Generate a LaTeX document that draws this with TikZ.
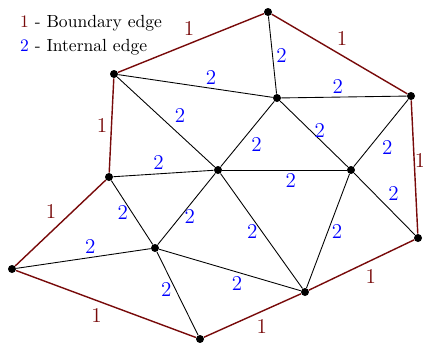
\documentclass[tikz,border=0pt]{standalone}
\usepackage{tikz}
\definecolor{bdry}{RGB}{120,10,10}

\begin{document}
\begin{tikzpicture}[x=0.02cm,y=-0.02cm,
  dot/.style={circle,fill=black,inner sep=0pt,minimum size=0.16cm},
  bedge/.style={bdry,thick},
  iedge/.style={black,line width=0.5pt},
  lab1/.style={text=bdry,font=\large,inner sep=2pt},
  lab2/.style={text=blue,font=\large,inner sep=2pt}]
\useasboundingbox (0,0) rectangle (423,342);
% vertices
\node[dot] (T)  at (268,12) {};
\node[dot] (UL) at (114,74) {};
\node[dot] (C)  at (277,98) {};
\node[dot] (R)  at (411,96) {};
\node[dot] (M)  at (218,170) {};
\node[dot] (MR) at (351,170) {};
\node[dot] (L)  at (109,177) {};
\node[dot] (LL) at (155,248) {};
\node[dot] (RR) at (418,238) {};
\node[dot] (BL) at (12,269) {};
\node[dot] (B)  at (305,292) {};
\node[dot] (BB) at (200,339) {};
% legend
\node[anchor=west] (key1) at (14,23) {{\color{bdry}1} - Boundary edge};
\node[anchor=west] (key2) at (14,47) {{\color{blue}2} - Internal edge};
% internal edges
\draw[iedge] (T)--(C) node[midway,lab2,right] {2};
\draw[iedge] (UL)--(C) node[midway,lab2,above,pos=0.6] {2};
\draw[iedge] (C)--(R) node[midway,lab2,above,pos=0.45] {2};
\draw[iedge] (UL)--(M) node[midway,lab2,above right,pos=0.55] {2};
\draw[iedge] (C)--(M) node[midway,lab2,below right] {2};
\draw[iedge] (C)--(MR) node[midway,lab2,right,pos=0.45] {2};
\draw[iedge] (R)--(MR) node[midway,lab2,below right,pos=0.55] {2};
\draw[iedge] (L)--(M) node[midway,lab2,above,pos=0.45] {2};
\draw[iedge] (M)--(MR) node[midway,lab2,below,pos=0.55] {2};
\draw[iedge] (MR)--(RR) node[midway,lab2,above right] {2};
\draw[iedge] (L)--(LL) node[midway,lab2,left] {2};
\draw[iedge] (BL)--(LL) node[midway,lab2,above,pos=0.55] {2};
\draw[iedge] (M)--(LL) node[midway,lab2,right,pos=0.6] {2};
\draw[iedge] (M)--(B) node[midway,lab2,left] {2};
\draw[iedge] (MR)--(B) node[midway,lab2,right] {2};
\draw[iedge] (LL)--(BB) node[midway,lab2,left,pos=0.45] {2};
\draw[iedge] (LL)--(B) node[midway,lab2,below,pos=0.55] {2};
% boundary edges
\draw[bedge] (T)--(UL) node[midway,lab1,above left,pos=0.45] {1};
\draw[bedge] (T)--(R) node[midway,lab1,above right,pos=0.45] {1};
\draw[bedge] (UL)--(L) node[midway,lab1,left] {1};
\draw[bedge] (R)--(RR) node[midway,lab1,anchor=west,inner sep=0pt,pos=0.45] {1};
\draw[bedge] (L)--(BL) node[midway,lab1,above left] {1};
\draw[bedge] (BL)--(BB) node[midway,lab1,below left] {1};
\draw[bedge] (BB)--(B) node[midway,lab1,below right] {1};
\draw[bedge] (B)--(RR) node[midway,lab1,below right] {1};
\end{tikzpicture}
\end{document}
